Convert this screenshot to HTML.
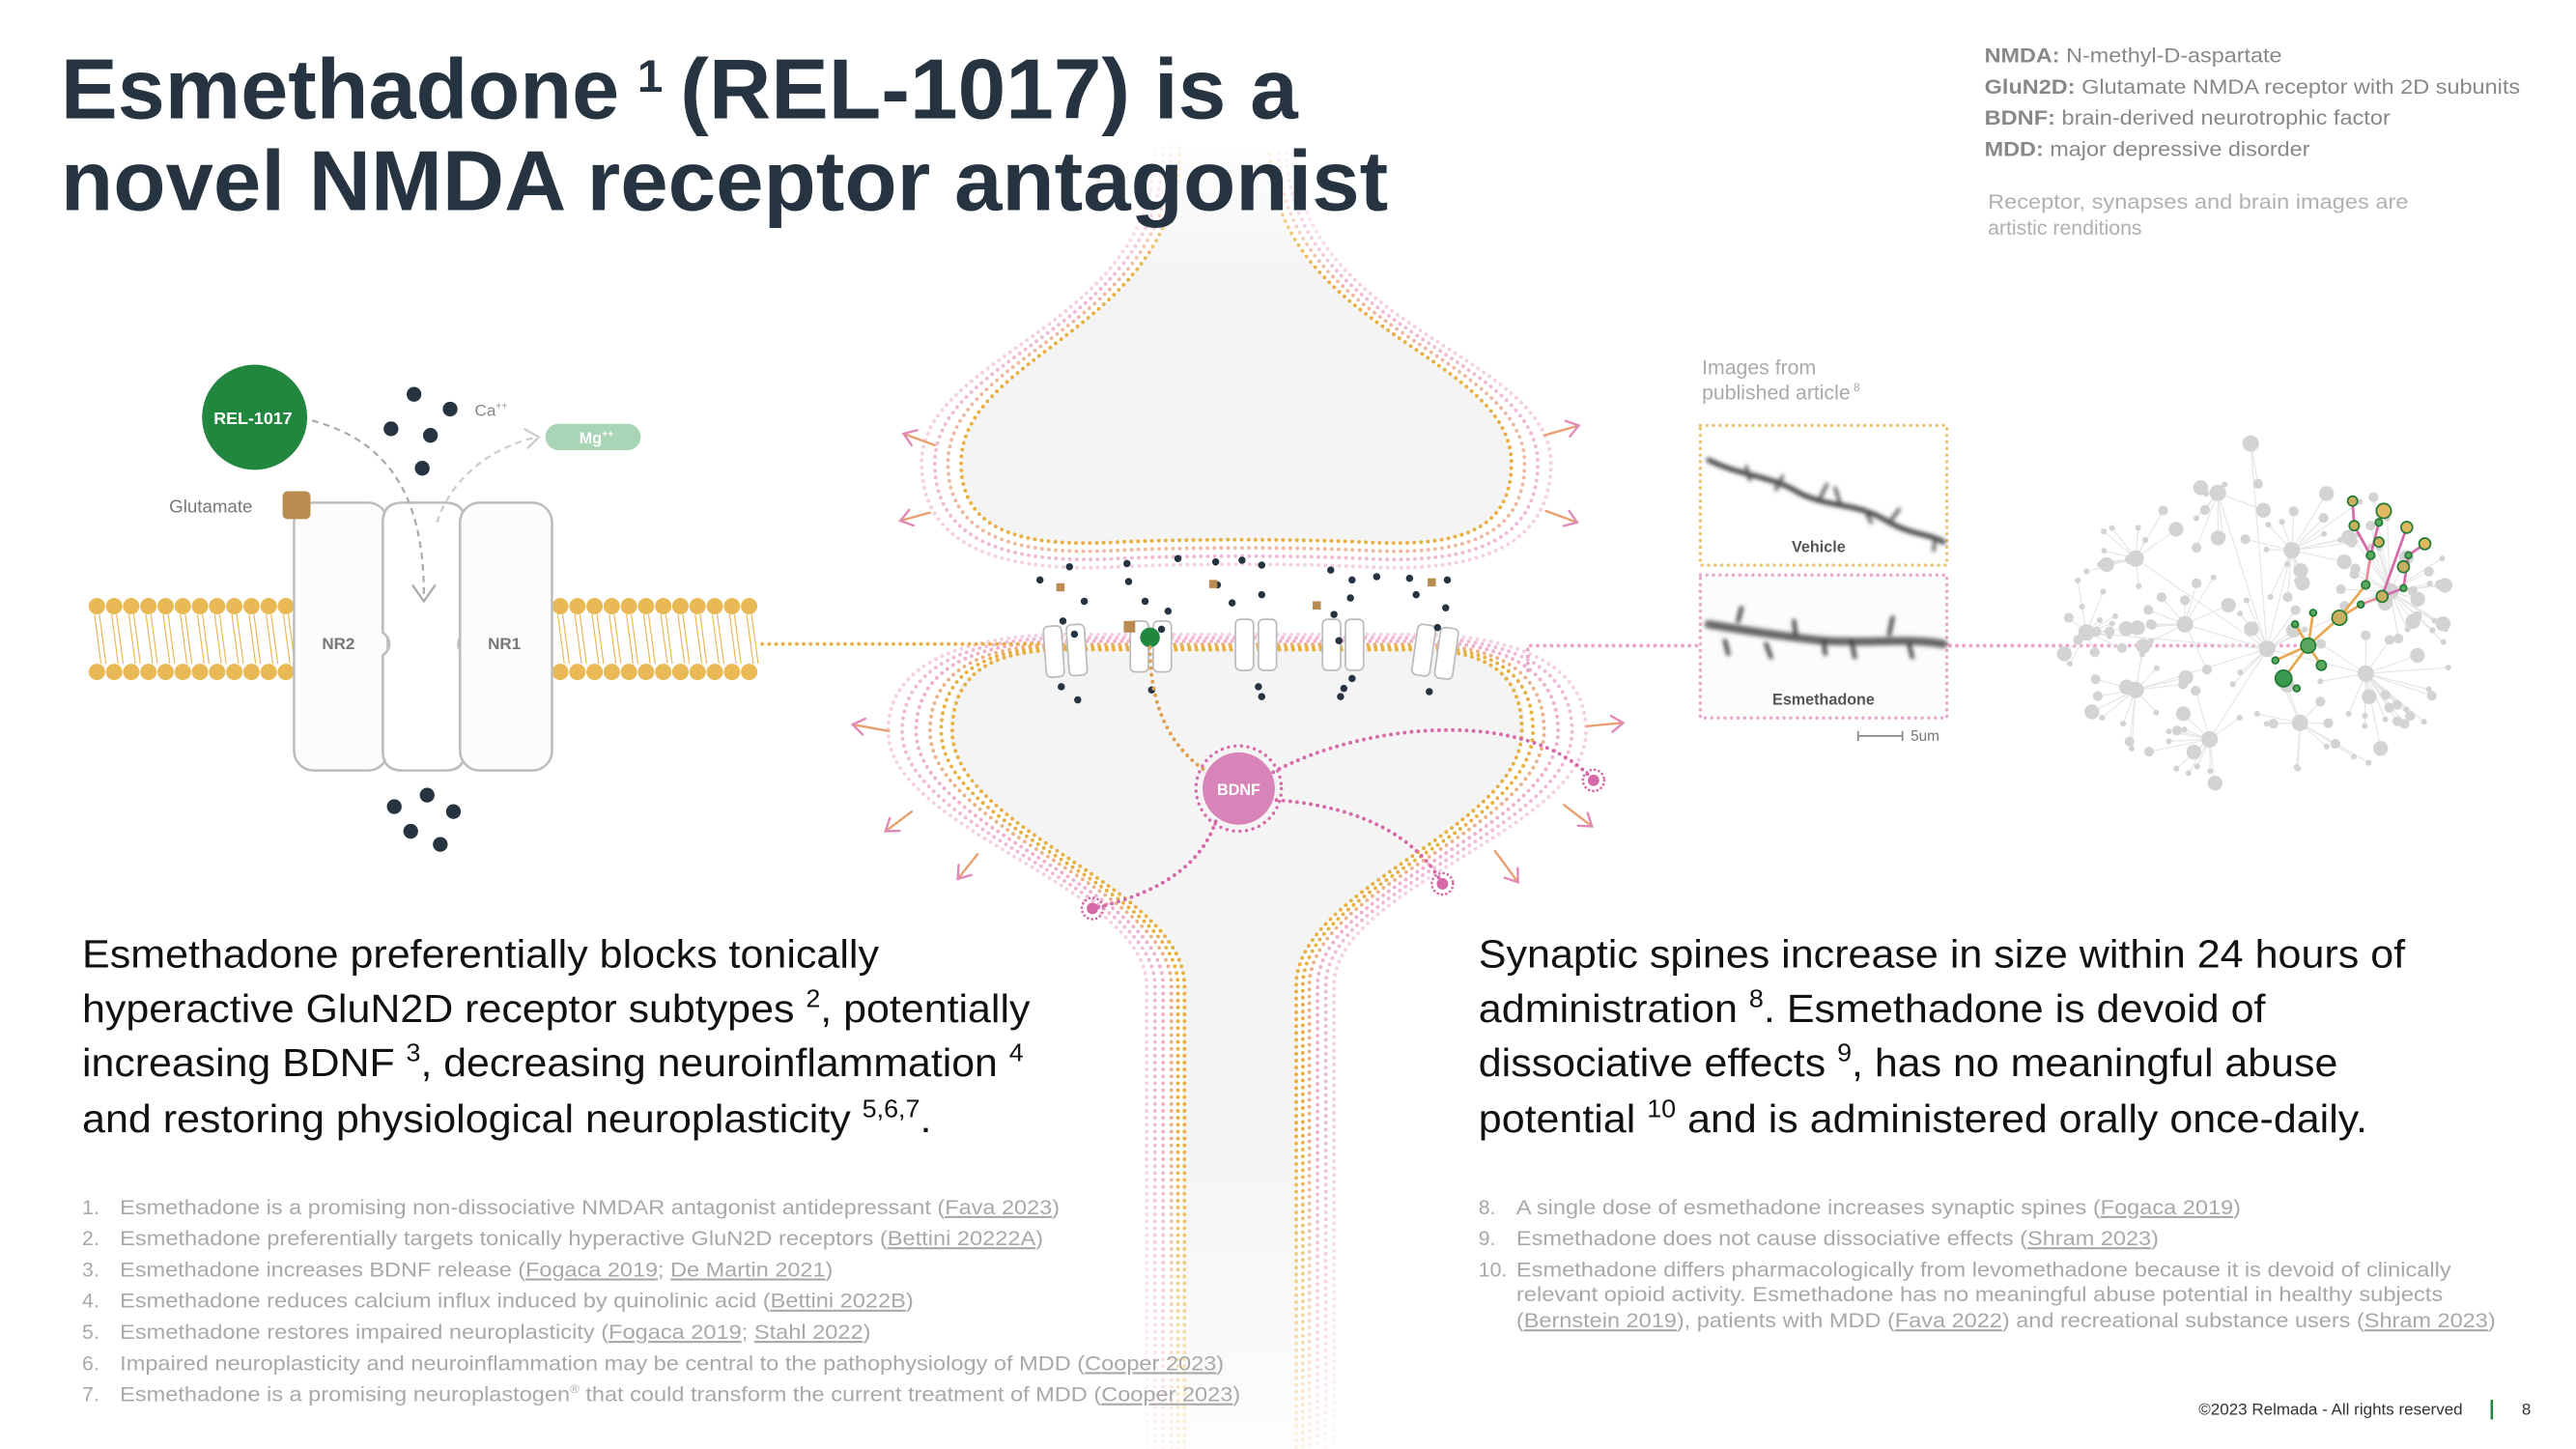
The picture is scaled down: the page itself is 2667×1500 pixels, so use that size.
<!DOCTYPE html>
<html><head><meta charset="utf-8"><style>
html,body{margin:0;padding:0;background:#fff;}
svg{display:block;}
text{font-family:"Liberation Sans",Arial,sans-serif;}
.d{fill:none;stroke-linecap:round;stroke-dasharray:0 4.2;stroke-width:2.3;}
</style></head><body>
<svg id="s" width="2667" height="1500" viewBox="0 0 1568 882" preserveAspectRatio="none" xmlns="http://www.w3.org/2000/svg">
<defs>
<filter id="bl" x="-10%" y="-50%" width="120%" height="200%"><feGaussianBlur stdDeviation="1.2"/></filter>
<linearGradient id="fadeT" x1="0" y1="0" x2="0" y2="1"><stop offset="0" stop-color="#fff" stop-opacity="1"/><stop offset="1" stop-color="#fff" stop-opacity="0"/></linearGradient>
<linearGradient id="fadeB" x1="0" y1="0" x2="0" y2="1"><stop offset="0" stop-color="#fff" stop-opacity="0"/><stop offset="1" stop-color="#fff" stop-opacity="0.85"/></linearGradient>
</defs>
<rect width="1568" height="882" fill="#fff"/>

<path d="M720,882 L720,600 C720,540 580,505 578,445 C576,405 610,395 650,395 L860,395 C900,395 930,405 928,445 C926,505 790,540 790,600 L790,882 Z" fill="#f4f4f4"/>
<path d="M718,90 C718,200 585,215 585,282 C585,325 625,333 680,330 C720,328 790,328 830,330 C885,333 920,325 920,282 C920,215 773,200 773,90 Z" fill="#f4f4f4"/>
<g id="outlines"></g>
<rect x="520" y="80" width="480" height="90" fill="url(#fadeT)"/>
<rect x="520" y="690" width="480" height="192" fill="url(#fadeB)"/>

<text x="37" y="72" font-size="52" font-weight="bold" fill="#263340"><tspan textLength="340" lengthAdjust="spacingAndGlyphs">Esmethadone</tspan></text>
<text x="388" y="56" font-size="28" font-weight="bold" fill="#263340">1</text>
<text x="414" y="72" font-size="52" font-weight="bold" fill="#263340" textLength="376" lengthAdjust="spacingAndGlyphs">(REL-1017) is a</text>
<text x="37" y="128" font-size="52" font-weight="bold" fill="#263340" textLength="808" lengthAdjust="spacingAndGlyphs">novel NMDA receptor antagonist</text>

<g font-size="12.5" fill="#888">
<text x="1208" y="38" textLength="181" lengthAdjust="spacingAndGlyphs"><tspan font-weight="bold">NMDA:</tspan> N-methyl-D-aspartate</text>
<text x="1208" y="57" textLength="326" lengthAdjust="spacingAndGlyphs"><tspan font-weight="bold">GluN2D:</tspan> Glutamate NMDA receptor with 2D subunits</text>
<text x="1208" y="76" textLength="247" lengthAdjust="spacingAndGlyphs"><tspan font-weight="bold">BDNF:</tspan> brain-derived neurotrophic factor</text>
<text x="1208" y="95" textLength="198" lengthAdjust="spacingAndGlyphs"><tspan font-weight="bold">MDD:</tspan> major depressive disorder</text>
</g>
<g font-size="12.5" fill="#b0b0b0">
<text x="1210" y="127" textLength="256" lengthAdjust="spacingAndGlyphs">Receptor, synapses and brain images are</text>
<text x="1210" y="143">artistic renditions</text>
</g>

<g id="lipid"></g>
<rect x="179" y="306" width="57" height="163" rx="12" fill="#fdfcfa" stroke="#bdbdbd" stroke-width="1.5"/>
<path d="M233,318 Q233,306 245,306 L271,306 Q283,306 283,318 L283,385 Q279,388 279,392 Q279,396 283,399 L283,457 Q283,469 271,469 L245,469 Q233,469 233,457 L233,399 Q237,396 237,392 Q237,388 233,385 Z" fill="#fff" stroke="#bdbdbd" stroke-width="1.5"/>
<rect x="280" y="306" width="56" height="163" rx="12" fill="#fdfcfa" stroke="#bdbdbd" stroke-width="1.5"/>
<text x="206" y="395" font-size="10" font-weight="bold" fill="#777" text-anchor="middle">NR2</text>
<text x="307" y="395" font-size="10" font-weight="bold" fill="#777" text-anchor="middle">NR1</text>
<rect x="172" y="299" width="17" height="17" rx="3" fill="#bb8c52"/>
<text x="103" y="312" font-size="11" fill="#777">Glutamate</text>
<circle cx="155" cy="254" r="32" fill="#21873f"/>
<text x="154" y="258" font-size="10.5" font-weight="bold" fill="#fff" text-anchor="middle">REL-1017</text>
<g fill="#263340">
<circle cx="252" cy="240" r="4.5"/><circle cx="274" cy="249" r="4.5"/><circle cx="238" cy="261" r="4.5"/><circle cx="262" cy="265" r="4.5"/><circle cx="257" cy="285" r="4.5"/>
<circle cx="260" cy="484" r="4.5"/><circle cx="240" cy="491" r="4.5"/><circle cx="276" cy="494" r="4.5"/><circle cx="250" cy="506" r="4.5"/><circle cx="268" cy="514" r="4.5"/>
</g>
<text x="289" y="253" font-size="10" fill="#888">Ca<tspan font-size="6" dy="-4">++</tspan></text>
<rect x="332" y="258" width="58" height="16" rx="8" fill="#a8d5b5"/>
<text x="363" y="270" font-size="9.5" font-weight="bold" fill="#fff" text-anchor="middle">Mg<tspan font-size="6" dy="-4">++</tspan></text>
<path d="M190,256 C235,268 258,300 258,362" fill="none" stroke="#aaa" stroke-width="1.3" stroke-dasharray="4 3"/>
<path d="M251,356 L258,366 L265,356" fill="none" stroke="#aaa" stroke-width="1.3"/>
<path d="M266,318 C275,290 300,272 327,266" fill="none" stroke="#ccc" stroke-width="1.3" stroke-dasharray="4 3"/>
<path d="M319,261 L328,266 L321,273" fill="none" stroke="#ccc" stroke-width="1.3"/>
<line x1="464" y1="392" x2="640" y2="392" class="d" stroke="#e8b040"/>

<g fill="#fff" stroke="#bbb" stroke-width="1">
<g transform="rotate(-4 643 397)"><rect x="636" y="381" width="11" height="31" rx="3"/><rect x="650" y="381" width="11" height="31" rx="3"/></g>
<rect x="688" y="378" width="11" height="31" rx="3"/><rect x="702" y="378" width="11" height="31" rx="3"/>
<rect x="752" y="377" width="11" height="31" rx="3"/><rect x="766" y="377" width="11" height="31" rx="3"/>
<rect x="805" y="377" width="11" height="31" rx="3"/><rect x="819" y="377" width="11" height="31" rx="3"/>
<g transform="rotate(8 872 397)"><rect x="861" y="381" width="11" height="31" rx="3"/><rect x="875" y="381" width="11" height="31" rx="3"/></g>
</g>
<g fill="#263340" id="sdots"></g>
<g fill="#bb8c52">
<rect x="643" y="355" width="5" height="5"/><rect x="684" y="378" width="7" height="7"/><rect x="736" y="353" width="5" height="5"/><rect x="799" y="366" width="5" height="5"/><rect x="869" y="352" width="5" height="5"/>
</g>
<circle cx="700" cy="388" r="6" fill="#21873f"/>
<path d="M700,394 C700,440 720,460 735,470" class="d" stroke="#e0a050"/>
<path d="M775,470 C830,440 930,430 970,475" class="d" stroke="#d66aa8"/>
<path d="M777,487 C820,490 860,505 878,538" class="d" stroke="#d66aa8"/>
<path d="M740,500 C730,530 700,545 665,553" class="d" stroke="#d66aa8"/>
<circle cx="754" cy="480" r="26" fill="none" stroke="#d66aa8" stroke-width="2" stroke-dasharray="0 4" stroke-linecap="round"/>
<circle cx="754" cy="480" r="22" fill="#d984b8"/>
<text x="754" y="484" font-size="9.5" font-weight="bold" fill="#fff" text-anchor="middle">BDNF</text>
<g id="suns"></g>
<g id="arrows" fill="none" stroke-width="1.4" stroke-linecap="round"></g>

<path d="M930,408 L930,393 L1033,393" class="d" stroke="#e8a6cb"/>
<line x1="1187" y1="393" x2="1400" y2="393" class="d" stroke="#e8a6cb"/>

<text x="1036" y="228" font-size="12.5" fill="#aaa">Images from</text>
<text x="1036" y="243" font-size="12.5" fill="#aaa">published article<tspan font-size="7" dy="-5"> 8</tspan></text>
<rect x="1035" y="259" width="150" height="85" fill="#fff" stroke="#eac36e" stroke-width="2" stroke-dasharray="0 4" stroke-linecap="round"/>
<rect x="1035" y="350" width="150" height="87" fill="#fcfcfc" stroke="#e8a6cb" stroke-width="2" stroke-dasharray="0 4" stroke-linecap="round"/>
<g filter="url(#bl)" stroke="#333" fill="none" stroke-linecap="round">
<path d="M1040,280 C1060,290 1080,290 1095,300 C1115,310 1130,305 1150,318 C1165,326 1175,325 1183,330" stroke-width="3" stroke="#444"/>
<path d="M1063,284 l2,8 M1085,290 l-4,8 M1108,303 l4,-8 M1120,306 l-3,-9 M1135,310 l4,8 M1150,318 l6,-8 M1178,327 l-1,8" stroke-width="2" stroke="#555"/>
<path d="M1040,380 C1070,385 1090,388 1110,390 C1140,392 1160,388 1183,392" stroke-width="5" stroke="#666"/>
<path d="M1058,378 l2,-8 M1050,390 l2,8 M1075,392 l3,8 M1093,386 l-1,-8 M1110,390 l1,8 M1127,390 l2,10 M1150,386 l2,-10 M1162,392 l2,8" stroke-width="2.5" stroke="#444"/>
</g>
<text x="1107" y="336" font-size="9.5" font-weight="bold" fill="#555" text-anchor="middle">Vehicle</text>
<text x="1110" y="429" font-size="9.5" font-weight="bold" fill="#555" text-anchor="middle">Esmethadone</text>
<path d="M1131,448 L1158,448 M1131,445 L1131,451 M1158,445 L1158,451" stroke="#888" stroke-width="1"/>
<text x="1163" y="451" font-size="9" fill="#777">5um</text>

<g id="net"></g>
<g id="tree"></g>

<g font-size="24" fill="#111">
<text x="50" y="589" textLength="485" lengthAdjust="spacingAndGlyphs">Esmethadone preferentially blocks tonically</text>
<text x="50" y="622" textLength="577" lengthAdjust="spacingAndGlyphs">hyperactive GluN2D receptor subtypes <tspan font-size="15" dy="-9">2</tspan><tspan dy="9">, potentially</tspan></text>
<text x="50" y="655" textLength="573" lengthAdjust="spacingAndGlyphs">increasing BDNF <tspan font-size="15" dy="-9">3</tspan><tspan dy="9">, decreasing neuroinflammation </tspan><tspan font-size="15" dy="-9">4</tspan></text>
<text x="50" y="689" textLength="517" lengthAdjust="spacingAndGlyphs">and restoring physiological neuroplasticity <tspan font-size="15" dy="-9">5,6,7</tspan><tspan dy="9">.</tspan></text>
<text x="900" y="589" textLength="564" lengthAdjust="spacingAndGlyphs">Synaptic spines increase in size within 24 hours of</text>
<text x="900" y="622" textLength="479" lengthAdjust="spacingAndGlyphs">administration <tspan font-size="15" dy="-9">8</tspan><tspan dy="9">. Esmethadone is devoid of</tspan></text>
<text x="900" y="655" textLength="523" lengthAdjust="spacingAndGlyphs">dissociative effects <tspan font-size="15" dy="-9">9</tspan><tspan dy="9">, has no meaningful abuse</tspan></text>
<text x="900" y="689" textLength="541" lengthAdjust="spacingAndGlyphs">potential <tspan font-size="15" dy="-9">10</tspan><tspan dy="9"> and is administered orally once-daily.</tspan></text>
</g>

<g font-size="12.5" fill="#a8a8a8">
<text x="50" y="739">1.</text><text x="73" y="739" textLength="572" lengthAdjust="spacingAndGlyphs">Esmethadone is a promising non-dissociative NMDAR antagonist antidepressant (<tspan text-decoration="underline">Fava 2023</tspan>)</text>
<text x="50" y="758">2.</text><text x="73" y="758" textLength="562" lengthAdjust="spacingAndGlyphs">Esmethadone preferentially targets tonically hyperactive GluN2D receptors (<tspan text-decoration="underline">Bettini 20222A</tspan>)</text>
<text x="50" y="777">3.</text><text x="73" y="777" textLength="434" lengthAdjust="spacingAndGlyphs">Esmethadone increases BDNF release (<tspan text-decoration="underline">Fogaca 2019</tspan>; <tspan text-decoration="underline">De Martin 2021</tspan>)</text>
<text x="50" y="796">4.</text><text x="73" y="796" textLength="483" lengthAdjust="spacingAndGlyphs">Esmethadone reduces calcium influx induced by quinolinic acid (<tspan text-decoration="underline">Bettini 2022B</tspan>)</text>
<text x="50" y="815">5.</text><text x="73" y="815" textLength="457" lengthAdjust="spacingAndGlyphs">Esmethadone restores impaired neuroplasticity (<tspan text-decoration="underline">Fogaca 2019</tspan>; <tspan text-decoration="underline">Stahl 2022</tspan>)</text>
<text x="50" y="834">6.</text><text x="73" y="834" textLength="672" lengthAdjust="spacingAndGlyphs">Impaired neuroplasticity and neuroinflammation may be central to the pathophysiology of MDD (<tspan text-decoration="underline">Cooper 2023</tspan>)</text>
<text x="50" y="853">7.</text><text x="73" y="853" textLength="682" lengthAdjust="spacingAndGlyphs">Esmethadone is a promising neuroplastogen<tspan font-size="7" dy="-5">®</tspan><tspan dy="5"> that could transform the current treatment of MDD (</tspan><tspan text-decoration="underline">Cooper 2023</tspan>)</text>
<text x="900" y="739">8.</text><text x="923" y="739" textLength="441" lengthAdjust="spacingAndGlyphs">A single dose of esmethadone increases synaptic spines (<tspan text-decoration="underline">Fogaca 2019</tspan>)</text>
<text x="900" y="758">9.</text><text x="923" y="758" textLength="391" lengthAdjust="spacingAndGlyphs">Esmethadone does not cause dissociative effects (<tspan text-decoration="underline">Shram 2023</tspan>)</text>
<text x="900" y="777">10.</text><text x="923" y="777" textLength="569" lengthAdjust="spacingAndGlyphs">Esmethadone differs pharmacologically from levomethadone because it is devoid of clinically</text>
<text x="923" y="792" textLength="564" lengthAdjust="spacingAndGlyphs">relevant opioid activity. Esmethadone has no meaningful abuse potential in healthy subjects</text>
<text x="923" y="808" textLength="596" lengthAdjust="spacingAndGlyphs">(<tspan text-decoration="underline">Bernstein 2019</tspan>), patients with MDD (<tspan text-decoration="underline">Fava 2022</tspan>) and recreational substance users (<tspan text-decoration="underline">Shram 2023</tspan>)</text>
</g>
<text x="1499" y="861" font-size="10" fill="#333" text-anchor="end">©2023 Relmada - All rights reserved</text>
<rect x="1516" y="852" width="1.5" height="12" fill="#21873f"/>
<text x="1535" y="861" font-size="10" fill="#333">8</text>
</svg>
<script>
(function(){
var NS="http://www.w3.org/2000/svg";
function el(p,t,a){var e=document.createElementNS(NS,t);for(var k in a)e.setAttribute(k,a[k]);p.appendChild(e);return e;}
var L=document.getElementById("lipid");
function lip(x0,x1){var n=12,st=(x1-x0)/(n-1);for(var i=0;i<n;i++){var x=x0+i*st;
el(L,"line",{x1:x-1.5,y1:374,x2:x+2.5,y2:404,stroke:"#e8b955","stroke-width":0.7});
el(L,"line",{x1:x+1.5,y1:374,x2:x+5.5,y2:404,stroke:"#e8b955","stroke-width":0.7});
el(L,"circle",{cx:x,cy:369,r:5,fill:"#e8b955"});el(L,"circle",{cx:x,cy:409,r:5,fill:"#e8b955"});}}
lip(59,174);lip(341,456);
var O=document.getElementById("outlines");
function upP(o){var a=718-o,b=773+o,l=585-o*1.6,r=920+o*1.6,bt=330+o;
return "M"+a+",90 C"+a+",200 "+l+",215 "+l+",282 C"+l+","+(325+o)+" 625,"+(bt+3)+" 680,"+bt+" C720,"+(bt-2)+" 790,"+(bt-2)+" 830,"+bt+" C885,"+(bt+3)+" "+r+","+(325+o)+" "+r+",282 C"+r+",215 "+b+",200 "+b+",90";}
function loP(o){var a=720-o,b=790+o,l=578-o*1.7,r=928+o*1.7,t=395-o*0.4;
return "M"+a+",882 L"+a+",600 C"+a+",540 "+l+",505 "+l+",445 C"+l+","+(405-o*0.5)+" 610,"+t+" 650,"+t+" L860,"+t+" C900,"+t+" "+r+","+(405-o*0.5)+" "+r+",445 C"+r+",505 "+b+",540 "+b+",600 L"+b+",882";}
[[15,"#f5cfe2"],[10,"#f0bad6"],[5,"#eeb9a0"],[0,"#e8b040"]].forEach(function(s){el(O,"path",{d:upP(s[0]),class:"d",stroke:s[1]});});
[[22,"#f5cfe2"],[17,"#f0bad6"],[12,"#eeb0cc"],[7,"#ecb38a"],[3,"#e8b040"],[-1,"#e8b040"]].forEach(function(s){el(O,"path",{d:loP(s[0]),class:"d",stroke:s[1]});});
var D=document.getElementById("sdots");
[[633,353],[651,345],[660,366],[647,378],[654,386],[686,343],[697,366],[687,354],[711,372],[717,340],[707,383],[740,342],[756,341],[768,344],[741,356],[768,362],[750,367],[810,347],[823,353],[822,364],[812,374],[815,390],[838,351],[858,352],[881,353],[880,370],[875,382],[862,362],[646,418],[656,426],[701,420],[766,418],[768,424],[823,413],[818,419],[816,424],[870,421]].forEach(function(p){el(D,"circle",{cx:p[0],cy:p[1],r:2.2});});
var S=document.getElementById("suns");
[[665,553],[878,538],[970,475]].forEach(function(p){el(S,"circle",{cx:p[0],cy:p[1],r:6.5,fill:"none",stroke:"#d66aa8","stroke-width":1.6,"stroke-dasharray":"0 2.6","stroke-linecap":"round"});el(S,"circle",{cx:p[0],cy:p[1],r:3.5,fill:"#d66aa8"});});
var A=document.getElementById("arrows");
function arr(x1,y1,x2,y2){var dx=x2-x1,dy=y2-y1,l=Math.sqrt(dx*dx+dy*dy),ux=dx/l,uy=dy/l,h=7;
el(A,"line",{x1:x1,y1:y1,x2:x2,y2:y2,stroke:"#e8a070"});
var ax=x2-ux*h,ay=y2-uy*h,px=-uy*h*0.7,py=ux*h*0.7;
el(A,"path",{d:"M"+(ax+px)+","+(ay+py)+" L"+x2+","+y2+" L"+(ax-px)+","+(ay-py),stroke:"#e089b8"});}
arr(569,271,550,264);arr(566,312,548,317);arr(940,265,961,259);arr(941,311,960,318);
arr(541,445,519,441);arr(555,494,539,506);arr(595,520,583,535);arr(966,442,988,440);arr(952,490,969,503);arr(910,518,924,537);
var N=document.getElementById("net");var seed=11;function r(){seed=(seed*16807)%2147483647;return (seed-1)/2147483646;}
var hubs=[[1300,340],[1350,300],[1395,335],[1330,380],[1300,420],[1345,450],[1400,440],[1440,410],[1455,360],[1380,395],[1270,385],[1370,270]];
var pts=[];for(var i=0;i<170;i++){var a=r()*6.283,rr=Math.pow(r(),0.4);var x=1377+Math.cos(a)*rr*122,y=383+Math.sin(a)*rr*98;pts.push([x,y]);}
pts.forEach(function(p){var b=hubs[0],bd=1e9;hubs.forEach(function(h){var d=(h[0]-p[0])*(h[0]-p[0])+(h[1]-p[1])*(h[1]-p[1]);if(d<bd){bd=d;b=h;}});
el(N,"line",{x1:p[0],y1:p[1],x2:b[0],y2:b[1],stroke:"#e6e6e6","stroke-width":0.7});});
hubs.forEach(function(h){el(N,"line",{x1:h[0],y1:h[1],x2:1380,y2:395,stroke:"#e6e6e6","stroke-width":0.7});});
pts.forEach(function(p){var s=r();el(N,"circle",{cx:p[0],cy:p[1],r:s<0.45?1.8:(s<0.8?3:4.5),fill:"#d3d3d3"});});
hubs.forEach(function(h){el(N,"circle",{cx:h[0],cy:h[1],r:5,fill:"#d3d3d3"});});
var T=document.getElementById("tree");
var E=[[1390,413,1405,393,"#e8a850"],[1405,393,1424,376,"#e8a850"],[1405,393,1397,380,"#e8a850"],[1405,393,1413,405,"#e8a850"],[1405,393,1385,402,"#e8a850"],[1405,393,1408,373,"#e8a850"],[1424,376,1440,356,"#e8a850"],[1440,356,1443,338,"#e88a9a"],[1443,338,1433,320,"#d66aa8"],[1433,320,1432,305,"#d66aa8"],[1443,338,1448,318,"#d66aa8"],[1448,318,1451,311,"#d66aa8"],[1424,376,1437,368,"#e8a850"],[1437,368,1450,363,"#e88a9a"],[1450,363,1463,358,"#d66aa8"],[1463,358,1466,338,"#d66aa8"],[1466,338,1476,331,"#d66aa8"],[1450,363,1465,321,"#d66aa8"]];
E.forEach(function(e){el(T,"line",{x1:e[0],y1:e[1],x2:e[2],y2:e[3],stroke:e[4],"stroke-width":1.6});});
[[1390,413,5,"#3a9a50"],[1405,393,4.5,"#5aa860"],[1424,376,4.5,"#c8b060"],[1432,305,3,"#c8b060"],[1451,311,4.5,"#e0b860"],[1433,320,3,"#c8b060"],[1440,356,2.5,"#5aa860"],[1443,338,2.5,"#5aa860"],[1448,330,3,"#c8b060"],[1448,318,2.2,"#5aa860"],[1437,368,2,"#5aa860"],[1450,363,3.5,"#c8b060"],[1463,358,2,"#5aa860"],[1463,345,3.5,"#c8b060"],[1466,338,2,"#5aa860"],[1465,321,3.5,"#e0b860"],[1476,331,3.5,"#e0b860"],[1413,405,3,"#5aa860"],[1385,402,2,"#5aa860"],[1397,380,2,"#5aa860"],[1408,373,2,"#5aa860"],[1398,419,2,"#5aa860"]].forEach(function(n){el(T,"circle",{cx:n[0],cy:n[1],r:n[2],fill:n[3],stroke:"#1f7a33","stroke-width":1});});
})();
</script>
</body></html>
